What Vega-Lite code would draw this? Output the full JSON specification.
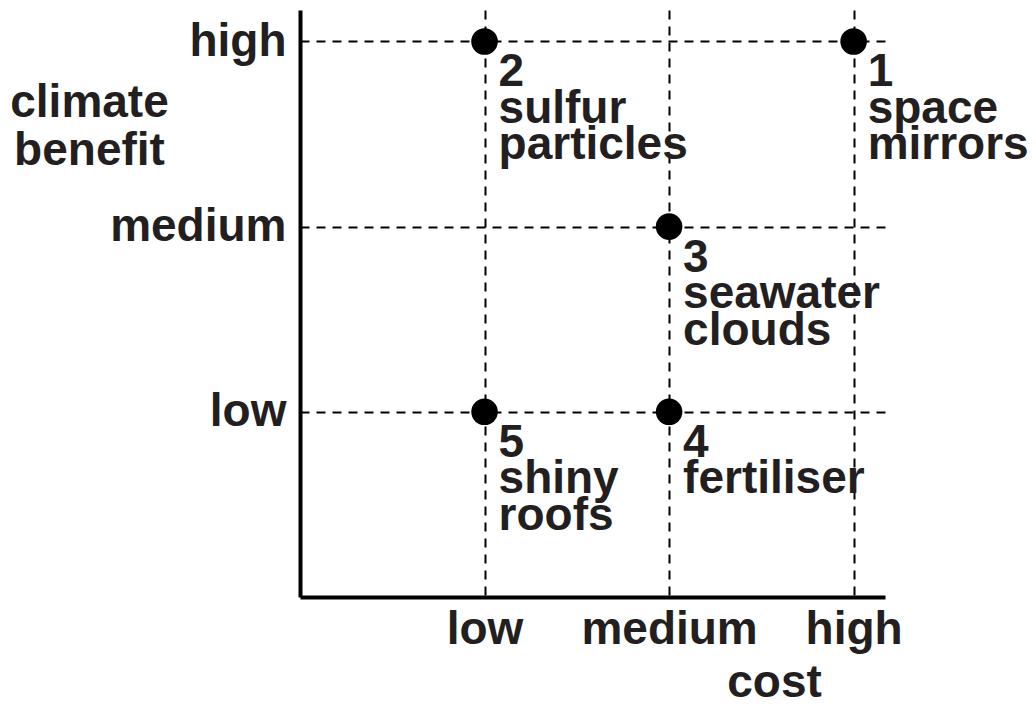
{
  "$schema": "https://vega.github.io/schema/vega-lite/v6.json",
  "width": 585,
  "height": 587,
  "autosize": {"type": "none"},
  "padding": {"left": 300, "top": 10, "right": 151, "bottom": 107},
  "background": "white",
  "config": {
    "view": {"stroke": null},
    "font": "Liberation Sans"
  },
  "data": {
    "values": [
      {"cost": 3, "benefit": 3, "label": "1\nspace\nmirrors"},
      {"cost": 1, "benefit": 3, "label": "2\nsulfur\nparticles"},
      {"cost": 2, "benefit": 2, "label": "3\nseawater\nclouds"},
      {"cost": 2, "benefit": 1, "label": "4\nfertiliser"},
      {"cost": 1, "benefit": 1, "label": "5\nshiny\nroofs"}
    ]
  },
  "encoding": {
    "x": {
      "field": "cost",
      "type": "quantitative",
      "scale": {"domain": [0, 3.17], "nice": false, "zero": false},
      "axis": {
        "values": [1, 2, 3],
        "labelExpr": "datum.value == 1 ? 'low' : datum.value == 2 ? 'medium' : 'high'",
        "grid": true,
        "gridColor": "black",
        "gridDash": [9, 7],
        "gridWidth": 2,
        "gridOpacity": 1,
        "ticks": false,
        "domainColor": "black",
        "domainWidth": 4,
        "labelFont": "Liberation Sans",
        "labelFontSize": 46,
        "labelFontWeight": "bold",
        "labelColor": "#231f20",
        "labelPadding": 10,
        "labelBaseline": "top",
        "labelOverlap": false,
        "title": "cost",
        "titleFont": "Liberation Sans",
        "titleFontSize": 46,
        "titleFontWeight": "bold",
        "titleColor": "#231f20",
        "titleBaseline": "alphabetic",
        "titleAlign": "center",
        "titleX": 474,
        "titleY": 99
      }
    },
    "y": {
      "field": "benefit",
      "type": "quantitative",
      "scale": {"domain": [0, 3.17], "nice": false, "zero": false},
      "axis": {
        "values": [1, 2, 3],
        "labelExpr": "datum.value == 1 ? 'low' : datum.value == 2 ? 'medium' : 'high'",
        "grid": true,
        "gridColor": "black",
        "gridDash": [9, 7],
        "gridWidth": 2,
        "gridOpacity": 1,
        "ticks": false,
        "domainColor": "black",
        "domainWidth": 4,
        "labelFont": "Liberation Sans",
        "labelFontSize": 46,
        "labelFontWeight": "bold",
        "labelColor": "#231f20",
        "labelPadding": 14,
        "labelAlign": "right",
        "labelBaseline": "middle",
        "labelOverlap": false,
        "title": ["climate", "benefit"],
        "titleFont": "Liberation Sans",
        "titleFontSize": 46,
        "titleFontWeight": "bold",
        "titleColor": "#231f20",
        "titleAngle": 0,
        "titleAlign": "center",
        "titleBaseline": "alphabetic",
        "titleLineHeight": 48,
        "titleX": -211,
        "titleY": 106
      }
    }
  },
  "layer": [
    {
      "mark": {"type": "point", "filled": true, "color": "black", "opacity": 1, "size": 707, "shape": "circle"}
    },
    {
      "mark": {
        "type": "text",
        "align": "left",
        "baseline": "alphabetic",
        "dx": 14,
        "dy": 45,
        "lineBreak": "\n",
        "lineHeight": 36.5,
        "font": "Liberation Sans",
        "fontSize": 46,
        "fontWeight": "bold",
        "color": "#231f20"
      },
      "encoding": {"text": {"field": "label"}}
    }
  ]
}
